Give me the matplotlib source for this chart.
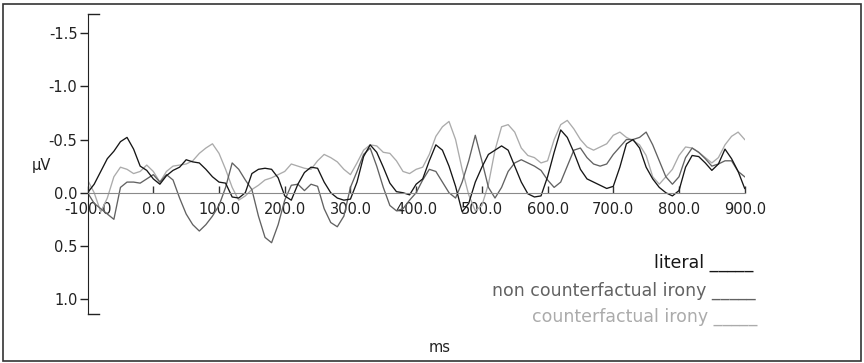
import numpy as np
import matplotlib
matplotlib.use("Agg")
import matplotlib.pyplot as plt
from matplotlib.patches import Rectangle

# sample times (ms), one value every 10 ms
times = np.arange(-100, 901, 10)

# amplitudes in microvolts (negative is drawn upward)
literal = [0.0, -0.08, -0.20, -0.32, -0.39, -0.48, -0.52, -0.41, -0.25, -0.21,
           -0.13, -0.08, -0.16, -0.21, -0.24, -0.31, -0.29, -0.28, -0.22, -0.15,
           -0.10, -0.09, 0.04, 0.05, 0.0, -0.18, -0.22, -0.23, -0.22, -0.14,
           0.03, 0.07, -0.08, -0.19, -0.24, -0.23, -0.10, 0.0, 0.05, 0.07,
           0.06, -0.10, -0.34, -0.45, -0.38, -0.24, -0.09, -0.01, 0.0, 0.02,
           -0.08, -0.13, -0.30, -0.45, -0.40, -0.25, -0.06, 0.18, 0.10, -0.10,
           -0.24, -0.36, -0.40, -0.44, -0.40, -0.25, -0.10, 0.01, 0.04, 0.03,
           -0.15, -0.38, -0.59, -0.52, -0.38, -0.22, -0.13, -0.10, -0.07, -0.04,
           -0.06, -0.24, -0.46, -0.50, -0.42, -0.24, -0.13, -0.05, 0.0, 0.03,
           -0.02, -0.24, -0.35, -0.34, -0.28, -0.21, -0.27, -0.41, -0.32, -0.20,
           -0.04]

non_cf_irony = [0.0, 0.10, 0.15, 0.20, 0.25, -0.05, -0.10, -0.10, -0.09, -0.13,
                -0.17, -0.10, -0.17, -0.12, 0.05, 0.20, 0.30, 0.36, 0.30, 0.22,
                0.12, -0.05, -0.28, -0.22, -0.12, -0.03, 0.22, 0.42, 0.47, 0.30,
                0.07, -0.07, -0.08, -0.02, -0.08, -0.06, 0.15, 0.28, 0.32, 0.22,
                -0.05, -0.20, -0.36, -0.42, -0.25, -0.05, 0.12, 0.17, 0.15, 0.07,
                0.0, -0.12, -0.22, -0.20, -0.10, 0.0, 0.05, -0.10, -0.30, -0.54,
                -0.30, -0.05, 0.05, -0.05, -0.20, -0.28, -0.31, -0.28, -0.25, -0.21,
                -0.12, -0.05, -0.10, -0.25, -0.40, -0.42, -0.33, -0.27, -0.25, -0.27,
                -0.36, -0.43, -0.50, -0.50, -0.52, -0.57, -0.45, -0.30, -0.15, -0.08,
                -0.15, -0.33, -0.42, -0.38, -0.32, -0.25, -0.27, -0.30, -0.30, -0.20,
                -0.15]

cf_irony = [-0.12, 0.0, 0.18, 0.05, -0.15, -0.24, -0.22, -0.18, -0.20, -0.26,
            -0.20, -0.10, -0.20, -0.25, -0.26, -0.27, -0.30, -0.37, -0.42, -0.46,
            -0.37, -0.22, -0.05, 0.07, 0.03, -0.03, -0.07, -0.12, -0.14, -0.17,
            -0.20, -0.27, -0.25, -0.23, -0.22, -0.30, -0.36, -0.33, -0.29, -0.22,
            -0.17, -0.28, -0.40, -0.45, -0.44, -0.38, -0.37, -0.30, -0.20, -0.18,
            -0.22, -0.24, -0.36, -0.53, -0.62, -0.67, -0.50, -0.22, 0.02, 0.17,
            0.12, -0.08, -0.40, -0.62, -0.64, -0.57, -0.42, -0.35, -0.33, -0.28,
            -0.30, -0.50, -0.64, -0.68, -0.60, -0.50, -0.43, -0.40, -0.43, -0.46,
            -0.54, -0.57, -0.52, -0.49, -0.45, -0.35, -0.15, -0.08, -0.15, -0.22,
            -0.35, -0.43, -0.42, -0.38, -0.33, -0.28, -0.33, -0.45, -0.53, -0.57,
            -0.50]

xticks = [-100, 0, 100, 200, 300, 400, 500, 600, 700, 800, 900]
xticklabels = ["-100.0", "0.0", "100.0", "200.0", "300.0", "400.0",
               "500.0", "600.0", "700.0", "800.0", "900.0"]
yticks = [-1.5, -1.0, -0.5, 0.0, 0.5, 1.0]
yticklabels = ["-1.5", "-1.0", "-0.5", "0.0", "0.5", "1.0"]

series_names = ["literal", "non counterfactual irony", "counterfactual irony"]
series_colors = ["#161616", "#626262", "#ababab"]

W, H = 864, 363
fig = plt.figure(figsize=(W / 100, H / 100), dpi=100)
ax = fig.add_axes([87.6 / W, 1 - 314 / H, (744.7 - 87.6) / W, (314 - 14) / H])

# light first so black ends on top
for vals, col in zip([cf_irony, non_cf_irony, literal], series_colors[::-1]):
    ax.plot(times, vals, color=col, lw=0.95)

ax.set_xlim(-100, 900)
ax.set_ylim(1.14, -1.68)

ax.spines["top"].set_visible(False)
ax.spines["right"].set_visible(False)
ax.spines["bottom"].set_position(("data", 0))
ax.spines["bottom"].set_color("#8a8a8a")
ax.spines["left"].set_color("#222222")

ax.set_xticks(xticks)
ax.set_xticklabels(xticklabels)
ax.tick_params(axis="x", direction="in", length=5, width=1, color="#333333",
               pad=7, labelsize=10.5, labelcolor="#222222")
ax.set_yticks(yticks)
ax.set_yticklabels(yticklabels)
ax.tick_params(axis="y", direction="out", length=5.8, width=1, color="#222222",
               pad=1.5, labelsize=10.5, labelcolor="#222222")

# small caps at both ends of the y axis
for yy in (0, 1):
    ax.plot([0, 0.018], [yy, yy], transform=ax.transAxes, color="#222222",
            lw=1, clip_on=False)

fig.text(41 / W, 1 - 165 / H, "µV", ha="center", va="center",
         fontsize=10.5, color="#222222")
fig.text(440 / W, 1 - 347 / H, "ms", ha="center", va="center",
         fontsize=10.5, color="#222222")

# legend as coloured text with trailing lines
legend_y = [268, 296, 322]
legend_x = [753, 756, 757]
for name, col, lx, ly in zip(series_names, series_colors, legend_x, legend_y):
    fig.text(lx / W, 1 - ly / H, name + " _____", ha="right", va="baseline",
             fontsize=12.5, color=col)

fig.patches.append(Rectangle((3 / W, 2 / H), 858 / W, 357 / H,
                             transform=fig.transFigure, fill=False,
                             ec="#333333", lw=1.2))

fig.savefig("out.png", dpi=100)
